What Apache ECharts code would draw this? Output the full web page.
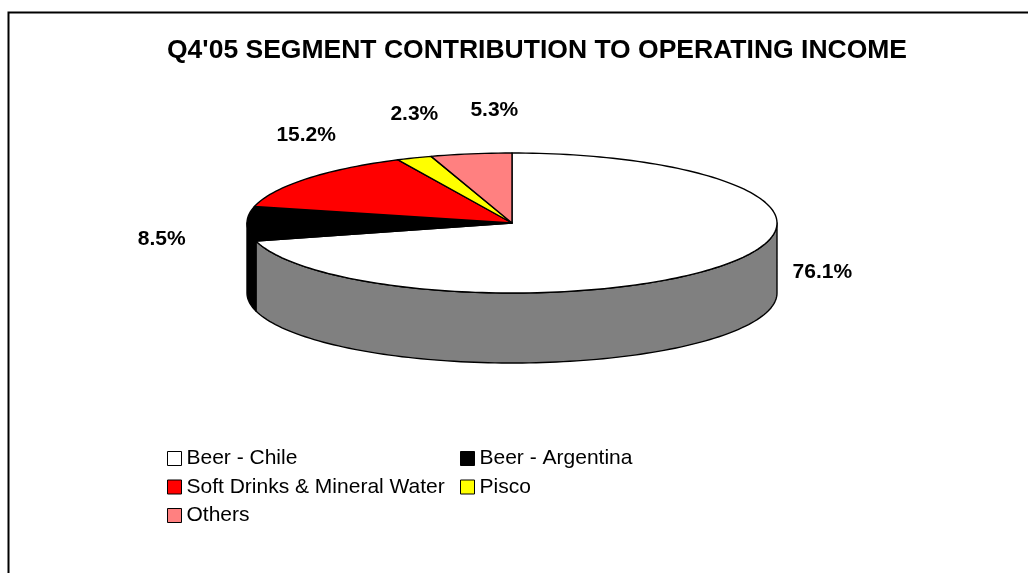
<!DOCTYPE html>
<html>
<head>
<meta charset="utf-8">
<script src="https://cdn.jsdelivr.net/npm/echarts@6/dist/echarts.min.js"></script>
<style>
html,body{margin:0;padding:0;background:#fff;}
#chart{width:1028px;height:573px;}
</style>
</head>
<body>
<div id="chart"></div>
<script>
// ---- data ----
const titleText = "Q4'05 SEGMENT CONTRIBUTION TO OPERATING INCOME";
const categories = ['Beer - Chile', 'Beer - Argentina', 'Soft Drinks & Mineral Water', 'Pisco', 'Others'];
const values = [76.1, 8.5, 15.2, 2.3, 5.3];

// ---- styles ----
const topColors = ['#FFFFFF', '#000000', '#FF0000', '#FFFF00', '#FF8080'];
const sideColors = ['#808080', '#000000', '#800000', '#808000', '#804040'];
const FONT = 'Liberation Sans, Arial, sans-serif';
const K = 70 / 265;     // vertical squash of the pie (tilt)
const DEPTH = 70;       // thickness of the pie in px
const LABEL_MIN_GAP = 80;

const total = values.reduce((a, b) => a + b, 0);
const starts = [];
let acc = 0;
values.forEach(v => { starts.push(acc); acc += v; });

function rim(api, a) {
  const c = api.coord([0, 0]);
  const p = api.coord([1, a]);
  return [p[0], c[1] + (p[1] - c[1]) * K];
}
function arcPts(api, a0, a1, dy) {
  const n = Math.max(2, Math.ceil((a1 - a0) / total * 360 / 1.5) + 1);
  const pts = [];
  for (let i = 0; i < n; i++) {
    const a = a0 + (a1 - a0) * i / (n - 1);
    const p = rim(api, a);
    pts.push([p[0], p[1] + dy]);
  }
  return pts;
}

// label placement: outside the rim, top labels above, side labels beside;
// top labels are pushed apart left-to-right so they don't collide
function labelPositions(api) {
  const out = values.map((v, i) => {
    const mid = starts[i] + v / 2;
    const th = mid / total * Math.PI * 2;
    const sn = Math.sin(th), cs = Math.cos(th);
    const rp = rim(api, mid);
    if (cs > 0.3) return { x: rp[0], y: rp[1] - 44, top: true };
    return { x: rp[0] + Math.sign(sn) * (85 - 25 * cs), y: rp[1] + 16 + 16 * cs, top: false };
  });
  const tops = out.filter(o => o.top).sort((a, b) => a.x - b.x);
  for (let i = 1; i < tops.length; i++) {
    if (tops[i].x - tops[i - 1].x < LABEL_MIN_GAP) tops[i].x = tops[i - 1].x + LABEL_MIN_GAP;
  }
  return out;
}

function makeRender(idx) {
  return function (params, api) {
    const a0 = starts[idx], a1 = starts[idx] + values[idx];
    const c = api.coord([0, 0]);
    const children = [];
    // front wall
    const s = Math.max(a0, total / 4), e = Math.min(a1, total * 3 / 4);
    if (s < e) {
      const topArc = arcPts(api, s, e, 0);
      const botArc = arcPts(api, s, e, DEPTH).reverse();
      children.push({
        type: 'polygon', z2: 1,
        shape: { points: topArc.concat(botArc) },
        style: { fill: sideColors[idx], stroke: '#000', lineWidth: 1.4, lineJoin: 'round' }
      });
    }
    // top face
    const face = [[c[0], c[1]]].concat(arcPts(api, a0, a1, 0));
    children.push({
      type: 'polygon', z2: 2,
      shape: { points: face },
      style: { fill: topColors[idx], stroke: '#000', lineWidth: 1.4, lineJoin: 'round' }
    });
    // label
    const lp = labelPositions(api)[idx];
    children.push({
      type: 'text', z2: 3,
      x: lp.x, y: lp.y,
      style: {
        text: values[idx].toFixed(1) + '%',
        fill: '#000', font: 'bold 21px ' + FONT,
        align: 'center', verticalAlign: 'middle'
      }
    });
    return { type: 'group', children: children };
  };
}

const series = categories.map((name, i) => ({
  type: 'custom',
  name: name,
  coordinateSystem: 'polar',
  data: [[1, values[i]]],
  itemStyle: { color: topColors[i], borderColor: '#000', borderWidth: 1 },
  renderItem: makeRender(i),
  silent: true,
  animation: false
}));

const legendText = { color: '#000', fontSize: 21, fontFamily: FONT, lineHeight: 21 };
const legendBase = {
  orient: 'vertical', top: 448, padding: 0, itemWidth: 14, itemHeight: 14, itemGap: 7.5,
  icon: 'rect', selectedMode: false,
  itemStyle: { borderColor: '#000', borderWidth: 1 },
  textStyle: legendText
};
const option = {
  backgroundColor: '#fff',
  animation: false,
  title: {
    text: titleText,
    left: 162, top: 32,
    textStyle: { fontSize: 26.5, fontWeight: 'bold', color: '#000', fontFamily: FONT }
  },
  polar: { center: [512, 223], radius: 265 },
  angleAxis: { type: 'value', min: 0, max: total, startAngle: 90, clockwise: true, show: false },
  radiusAxis: { type: 'value', min: 0, max: 1, show: false },
  legend: [
    Object.assign({}, legendBase, { left: 167, data: [categories[0], categories[2], categories[4]] }),
    Object.assign({}, legendBase, { left: 460, data: [categories[1], categories[3]] })
  ],
  graphic: [{
    type: 'rect', silent: true,
    shape: { x: 8.5, y: 12.5, width: 1100, height: 700 },
    style: { fill: 'none', stroke: '#000', lineWidth: 2 }
  }],
  series: series
};

const chart = echarts.init(document.getElementById('chart'), null, { renderer: 'canvas' });
chart.setOption(option);
</script>
</body>
</html>
